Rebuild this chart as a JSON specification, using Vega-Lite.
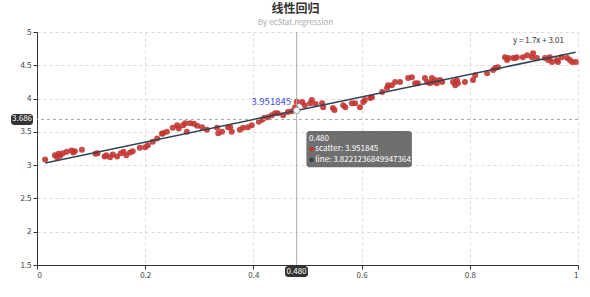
{
  "$schema": "https://vega.github.io/schema/vega-lite/v6.json",
  "width": 541,
  "height": 233,
  "autosize": {"type": "none"},
  "padding": {"left": 37, "top": 32, "right": 12, "bottom": 32},
  "background": "white",
  "title": {
    "text": "线性回归",
    "subtitle": "By ecStat.regression",
    "anchor": "middle",
    "dx": -12,
    "fontSize": 12,
    "fontWeight": "bold",
    "color": "#333",
    "subtitleFontSize": 8,
    "subtitleColor": "#aaa",
    "subtitlePadding": 3,
    "offset": 0
  },
  "config": {
    "font": "Noto Sans CJK SC",
    "view": {"stroke": null},
    "axis": {
      "grid": true,
      "gridDash": [3, 3],
      "gridColor": "#dcdcdc",
      "domainColor": "#333",
      "tickColor": "#333",
      "labelColor": "#444",
      "labelFontSize": 8,
      "tickSize": 4,
      "title": null,
      "format": "~g",
      "labelOverlap": false
    },
    "axisY": {"tickCount": 8}
  },
  "datasets": {
    "pts": [
      {"x":0.015,"y":3.085},{"x":0.033,"y":3.15},{"x":0.037,"y":3.12},{"x":0.04,"y":3.17},{"x":0.043,"y":3.14},
      {"x":0.048,"y":3.18},{"x":0.055,"y":3.2},{"x":0.064,"y":3.22},{"x":0.067,"y":3.19},{"x":0.07,"y":3.21},
      {"x":0.083,"y":3.23},{"x":0.108,"y":3.17},{"x":0.112,"y":3.18},{"x":0.125,"y":3.13},{"x":0.128,"y":3.15},
      {"x":0.135,"y":3.12},{"x":0.14,"y":3.16},{"x":0.148,"y":3.13},{"x":0.155,"y":3.18},{"x":0.16,"y":3.2},
      {"x":0.165,"y":3.15},{"x":0.172,"y":3.19},{"x":0.177,"y":3.21},{"x":0.19,"y":3.26},{"x":0.2,"y":3.27},
      {"x":0.205,"y":3.3},{"x":0.214,"y":3.35},{"x":0.222,"y":3.4},{"x":0.231,"y":3.47},{"x":0.233,"y":3.48},
      {"x":0.24,"y":3.5},{"x":0.251,"y":3.56},{"x":0.259,"y":3.6},{"x":0.262,"y":3.55},{"x":0.27,"y":3.6},
      {"x":0.274,"y":3.63},{"x":0.277,"y":3.5},{"x":0.283,"y":3.63},{"x":0.29,"y":3.62},{"x":0.296,"y":3.59},
      {"x":0.305,"y":3.57},{"x":0.314,"y":3.53},{"x":0.333,"y":3.56},{"x":0.335,"y":3.48},{"x":0.342,"y":3.5},
      {"x":0.353,"y":3.57},{"x":0.357,"y":3.57},{"x":0.36,"y":3.5},{"x":0.375,"y":3.53},{"x":0.381,"y":3.56},
      {"x":0.39,"y":3.57},{"x":0.397,"y":3.6},{"x":0.41,"y":3.65},{"x":0.416,"y":3.68},{"x":0.42,"y":3.71},
      {"x":0.427,"y":3.72},{"x":0.434,"y":3.75},{"x":0.44,"y":3.78},{"x":0.445,"y":3.78},{"x":0.455,"y":3.75},
      {"x":0.464,"y":3.8},{"x":0.471,"y":3.81},{"x":0.477,"y":3.87},{"x":0.48,"y":3.951845},{"x":0.49,"y":3.95},
      {"x":0.495,"y":3.9},{"x":0.505,"y":3.93},{"x":0.508,"y":3.98},{"x":0.515,"y":3.92},{"x":0.527,"y":3.93},
      {"x":0.529,"y":3.87},{"x":0.547,"y":3.86},{"x":0.55,"y":3.83},{"x":0.566,"y":3.9},{"x":0.57,"y":3.87},
      {"x":0.582,"y":3.93},{"x":0.588,"y":3.93},{"x":0.597,"y":3.87},{"x":0.603,"y":3.95},{"x":0.606,"y":3.98},
      {"x":0.616,"y":4.01},{"x":0.619,"y":4.02},{"x":0.638,"y":4.1},{"x":0.647,"y":4.16},{"x":0.649,"y":4.2},
      {"x":0.656,"y":4.2},{"x":0.662,"y":4.25},{"x":0.671,"y":4.25},{"x":0.686,"y":4.31},{"x":0.693,"y":4.32},
      {"x":0.699,"y":4.23},{"x":0.704,"y":4.23},{"x":0.717,"y":4.31},{"x":0.721,"y":4.25},{"x":0.726,"y":4.23},
      {"x":0.73,"y":4.31},{"x":0.732,"y":4.25},{"x":0.736,"y":4.28},{"x":0.739,"y":4.23},{"x":0.745,"y":4.28},
      {"x":0.749,"y":4.25},{"x":0.769,"y":4.25},{"x":0.773,"y":4.2},{"x":0.776,"y":4.28},{"x":0.778,"y":4.23},
      {"x":0.791,"y":4.25},{"x":0.806,"y":4.28},{"x":0.81,"y":4.35},{"x":0.832,"y":4.38},{"x":0.843,"y":4.43},
      {"x":0.847,"y":4.46},{"x":0.852,"y":4.47},{"x":0.865,"y":4.62},{"x":0.869,"y":4.58},{"x":0.871,"y":4.61},
      {"x":0.88,"y":4.61},{"x":0.884,"y":4.61},{"x":0.887,"y":4.62},{"x":0.898,"y":4.62},{"x":0.906,"y":4.65},
      {"x":0.915,"y":4.62},{"x":0.917,"y":4.68},{"x":0.924,"y":4.61},{"x":0.939,"y":4.61},{"x":0.945,"y":4.58},
      {"x":0.948,"y":4.62},{"x":0.952,"y":4.55},{"x":0.961,"y":4.58},{"x":0.963,"y":4.55},{"x":0.97,"y":4.62},
      {"x":0.98,"y":4.61},{"x":0.985,"y":4.58},{"x":0.989,"y":4.55},{"x":0.996,"y":4.55}
    ],
    "line": [
      {"x":0.015371,"y":3.0338},
      {"x":0.48,"y":3.8221236849947364},
      {"x":0.995731,"y":4.6956}
    ]
  },
  "layer": [
    {
      "data": {"name": "pts"},
      "mark": {"type": "circle", "size": 36, "color": "#c23531", "opacity": 0.9},
      "encoding": {
        "x": {"field": "x", "type": "quantitative", "scale": {"domain": [0, 1], "nice": false},
              "axis": {"values": [0, 0.2, 0.4, 0.6, 0.8, 1]}},
        "y": {"field": "y", "type": "quantitative", "scale": {"domain": [1.5, 5], "nice": false, "zero": false},
              "axis": {"values": [1.5, 2, 2.5, 3, 3.5, 4, 4.5, 5]}}
      }
    },
    {
      "data": {"values": [{"x": 0.48}]},
      "mark": {"type": "rule", "color": "#aaa", "strokeWidth": 1},
      "encoding": {
        "x": {"field": "x", "type": "quantitative"}
      }
    },
    {
      "data": {"values": [{"y": 3.686}]},
      "mark": {"type": "rule", "color": "#aaa", "strokeWidth": 1, "strokeDash": [3, 3]},
      "encoding": {
        "y": {"field": "y", "type": "quantitative"}
      }
    },
    {
      "data": {"name": "line"},
      "mark": {"type": "line", "color": "#2f4554", "strokeWidth": 1.5},
      "encoding": {
        "x": {"field": "x", "type": "quantitative"},
        "y": {"field": "y", "type": "quantitative"}
      }
    },
    {
      "data": {"values": [{"x": 0.48, "y": 3.8221236849947364}]},
      "mark": {"type": "point", "filled": true, "fill": "white", "stroke": "#999", "strokeWidth": 1, "size": 40, "opacity": 1},
      "encoding": {
        "x": {"field": "x", "type": "quantitative"},
        "y": {"field": "y", "type": "quantitative"}
      }
    },
    {
      "data": {"values": [{"x": 0.974, "y": 4.87, "t": "y = 1.7x + 3.01"}]},
      "mark": {"type": "text", "align": "right", "baseline": "middle", "fontSize": 8, "color": "#333"},
      "encoding": {
        "x": {"field": "x", "type": "quantitative"},
        "y": {"field": "y", "type": "quantitative"},
        "text": {"field": "t"}
      }
    },
    {
      "data": {"values": [{"x": 0.4695, "y": 3.951845, "t": "3.951845"}]},
      "mark": {"type": "text", "align": "right", "baseline": "middle", "fontSize": 9.5, "color": "#4150f0"},
      "encoding": {
        "x": {"field": "x", "type": "quantitative"},
        "y": {"field": "y", "type": "quantitative"},
        "text": {"field": "t"}
      }
    },
    {
      "data": {"values": [
        {"x": 0.498, "x2": 0.693, "y": 3.514, "y2": 2.97, "c": "rgba(50,50,50,0.7)"},
        {"x": -0.048, "x2": -0.0074, "y": 3.769, "y2": 3.604, "c": "#333"},
        {"x": 0.4584, "x2": 0.5009, "y": 1.485, "y2": 1.32, "c": "#333"}
      ]},
      "mark": {"type": "rect", "cornerRadius": 3},
      "encoding": {
        "x": {"field": "x", "type": "quantitative"},
        "x2": {"field": "x2"},
        "y": {"field": "y", "type": "quantitative"},
        "y2": {"field": "y2"},
        "color": {"field": "c", "type": "nominal", "scale": null}
      }
    },
    {
      "data": {"values": [
        {"x": 0.5077, "y": 3.239, "c": "#c23531"},
        {"x": 0.5077, "y": 3.078, "c": "#2f4554"}
      ]},
      "mark": {"type": "circle", "size": 22, "opacity": 1},
      "encoding": {
        "x": {"field": "x", "type": "quantitative"},
        "y": {"field": "y", "type": "quantitative"},
        "color": {"field": "c", "type": "nominal", "scale": null}
      }
    },
    {
      "data": {"values": [
        {"x": 0.5028, "y": 3.393, "t": "0.480"},
        {"x": 0.5145, "y": 3.239, "t": "scatter: 3.951845"},
        {"x": 0.5145, "y": 3.078, "t": "line: 3.8221236849947364"}
      ]},
      "mark": {"type": "text", "align": "left", "baseline": "middle", "fontSize": 8, "color": "white"},
      "encoding": {
        "x": {"field": "x", "type": "quantitative"},
        "y": {"field": "y", "type": "quantitative"},
        "text": {"field": "t"}
      }
    },
    {
      "data": {"values": [
        {"x": -0.0277, "y": 3.686, "t": "3.686"},
        {"x": 0.4797, "y": 1.4, "t": "0.480"}
      ]},
      "mark": {"type": "text", "align": "center", "baseline": "middle", "fontSize": 8, "color": "white"},
      "encoding": {
        "x": {"field": "x", "type": "quantitative"},
        "y": {"field": "y", "type": "quantitative"},
        "text": {"field": "t"}
      }
    }
  ]
}
